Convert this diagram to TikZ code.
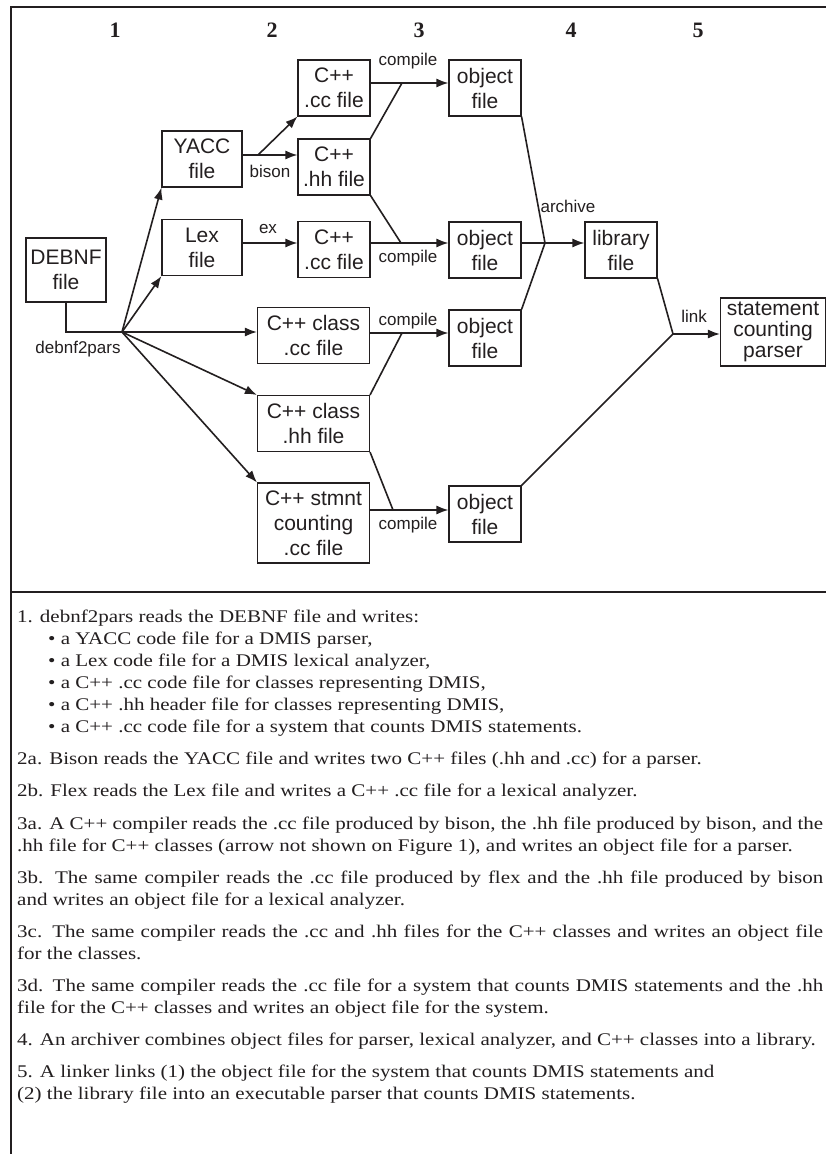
\documentclass[tikz,border=0pt]{standalone}
\usepackage{fontspec}
\setmainfont{Liberation Serif}
\newfontfamily\boxfont{Liberation Sans}
\newfontfamily\notefont[FakeStretch=1.18]{Liberation Serif}
\usetikzlibrary{arrows.meta,positioning}
\definecolor{ink}{RGB}{35,31,32}

\begin{document}
\begin{tikzpicture}[
x=1pt, y=-1pt,
filebox/.style={rectangle, draw=ink, line width=1.1pt, inner sep=0pt, align=center, text=ink,
  font=\boxfont\fontsize{21}{25}\selectfont, minimum width=72pt, minimum height=56pt},
widebox/.style={filebox, minimum width=112pt},
toollabel/.style={text=ink, inner sep=0pt, font=\boxfont\fontsize{17}{20}\selectfont},
colnum/.style={text=ink, inner sep=0pt, font=\fontsize{22}{24}\selectfont\bfseries},
flow/.style={draw=ink, line width=1.6pt},
flowarrow/.style={flow, arrows={-Latex[length=12pt,width=9pt]}}]
\path[fill=white] (0,0) rectangle (826,1154);
\useasboundingbox (0,0) rectangle (826,1154);
% Frame
\draw[ink, line width=1.5pt] (826,7) -- (11,7) -- (11,1154);
\draw[ink, line width=1.2pt] (11,592) -- (826,592);
% Column numbers
\foreach \n/\x in {1/115,2/272,3/419,4/571,5/698}
  \node[colnum] (col\n) at (\x,30) {\n};
% Nodes
\node[filebox, minimum width=80pt, minimum height=64pt] (debnf) at (66,270) {DEBNF\\file};
\node[filebox, minimum width=80pt] (yacc) at (202,159) {YACC\\file};
\node[filebox, minimum width=80pt] (lex) at (202,247.5) {Lex\\file};
\node[filebox] (bisoncc) at (334,88) {C++\\.cc file};
\node[filebox] (bisonhh) at (334,167) {C++\\.hh file};
\node[filebox] (flexcc) at (334,249.5) {C++\\.cc file};
\node[widebox] (classcc) at (313.5,335.5) {C++ class\\.cc file};
\node[widebox] (classhh) at (313.5,423.5) {C++ class\\.hh file};
\node[widebox, minimum height=80pt] (stmntcc) at (313.5,523) {C++ stmnt\\counting\\.cc file};
\node[filebox] (parserobj) at (485,88) {object\\file};
\node[filebox] (lexerobj) at (485,250) {object\\file};
\node[filebox] (classobj) at (485,338) {object\\file};
\node[filebox] (stmntobj) at (485,514) {object\\file};
\node[filebox] (library) at (621,250) {library\\file};
\node[filebox, minimum width=105pt, minimum height=68pt, font=\boxfont\fontsize{21}{21}\selectfont] (parser) at (773,332) {statement\\counting\\parser};
% Junctions
\coordinate (split) at (122,332);
\coordinate (bisonj) at (258,155);
\coordinate (compa) at (402,83);
\coordinate (compb) at (401,243);
\coordinate (compc) at (402,333);
\coordinate (compd) at (393,510);
\coordinate (archj) at (545,243);
\coordinate (linkj) at (673,334);
% Labels
\node[toollabel] (splitlbl) at (78,349) {debnf2pars};
\node[toollabel] (bisonlbl) at (270,171) {bison};
\node[toollabel] (flexlbl) at (268,229) {ex};
\node[toollabel] (compalbl) at (408,61) {compile};
\node[toollabel] (compblbl) at (408,258) {compile};
\node[toollabel] (compclbl) at (408,321) {compile};
\node[toollabel] (compdlbl) at (408,525) {compile};
\node[toollabel] (archlbl) at (568,206) {archive};
\node[toollabel] (linklbl) at (694,316) {link};
% Lines
\draw[flow] (debnf.south) |- (split);
\draw[flowarrow] (split) -- (yacc.south west);
\draw[flowarrow] (split) -- (lex.south west);
\draw[flowarrow] (split) -- (classcc.west |- split);
\draw[flowarrow] (split) -- (classhh.north west);
\draw[flowarrow] (split) -- (stmntcc.north west);
\draw[flow] (yacc.east |- bisonj) -- (bisonj);
\draw[flowarrow] (bisonj) -- (bisonhh.west |- bisonj);
\draw[flowarrow] (bisonj) -- (bisoncc.south west);
\draw[flowarrow] ([yshift=4.5pt]lex.east) -- ([yshift=4.5pt]lex.east -| flexcc.west);
\draw[flow] (bisoncc.east |- compa) -- (compa);
\draw[flow] (bisonhh.north east) -- (compa);
\draw[flowarrow] (compa) -- (parserobj.west |- compa);
\draw[flow] (flexcc.east |- compb) -- (compb);
\draw[flow] (bisonhh.south east) -- (compb);
\draw[flowarrow] (compb) -- (lexerobj.west |- compb);
\draw[flow] (classcc.east |- compc) -- (compc);
\draw[flow] (classhh.north east) -- (compc);
\draw[flowarrow] (compc) -- (classobj.west |- compc);
\draw[flow] (stmntcc.east |- compd) -- (compd);
\draw[flow] (classhh.south east) -- (compd);
\draw[flowarrow] (compd) -- (stmntobj.west |- compd);
\draw[flow] (parserobj.south east) -- (archj);
\draw[flow] (lexerobj.east |- archj) -- (archj);
\draw[flow] (classobj.north east) -- (archj);
\draw[flowarrow] (archj) -- (library.west |- archj);
\draw[flow] (library.south east) -- (linkj);
\draw[flow] (stmntobj.north east) -- (linkj);
\draw[flowarrow] (linkj) -- (parser.west |- linkj);
% Notes
\node[anchor=north west, inner sep=0pt, text width=806pt, align=justify, text=ink,
  font=\notefont\fontsize{17.8}{22}\selectfont] (notes) at (17,610) {%
\setlength{\parskip}{10.1pt}\setlength{\parindent}{0pt}%
1. debnf2pars reads the DEBNF file and writes:\newline
\hspace*{31pt}\textbullet\ a YACC code file for a DMIS parser,\newline
\hspace*{31pt}\textbullet\ a Lex code file for a DMIS lexical analyzer,\newline
\hspace*{31pt}\textbullet\ a C++ .cc code file for classes representing DMIS,\newline
\hspace*{31pt}\textbullet\ a C++ .hh header file for classes representing DMIS,\newline
\hspace*{31pt}\textbullet\ a C++ .cc code file for a system that counts DMIS statements.\par
2a. Bison reads the YACC file and writes two C++ files (.hh and .cc) for a parser.\par
2b. Flex reads the Lex file and writes a C++ .cc file for a lexical analyzer.\par
3a. A C++ compiler reads the .cc file produced by bison, the .hh file produced by bison, and the\linebreak
.hh file for C++ classes (arrow not shown on Figure 1), and writes an object file for a parser.\par
3b. The same compiler reads the .cc file produced by flex and the .hh file produced by bison\linebreak
and writes an object file for a lexical analyzer.\par
3c. The same compiler reads the .cc and .hh files for the C++ classes and writes an object file\linebreak
for the classes.\par
3d. The same compiler reads the .cc file for a system that counts DMIS statements and the .hh\linebreak
file for the C++ classes and writes an object file for the system.\par
4. An archiver combines object files for parser, lexical analyzer, and C++ classes into a library.\par
5. A linker links (1) the object file for the system that counts DMIS statements and\newline
(2) the library file into an executable parser that counts DMIS statements.\par};
\end{tikzpicture}
\end{document}
